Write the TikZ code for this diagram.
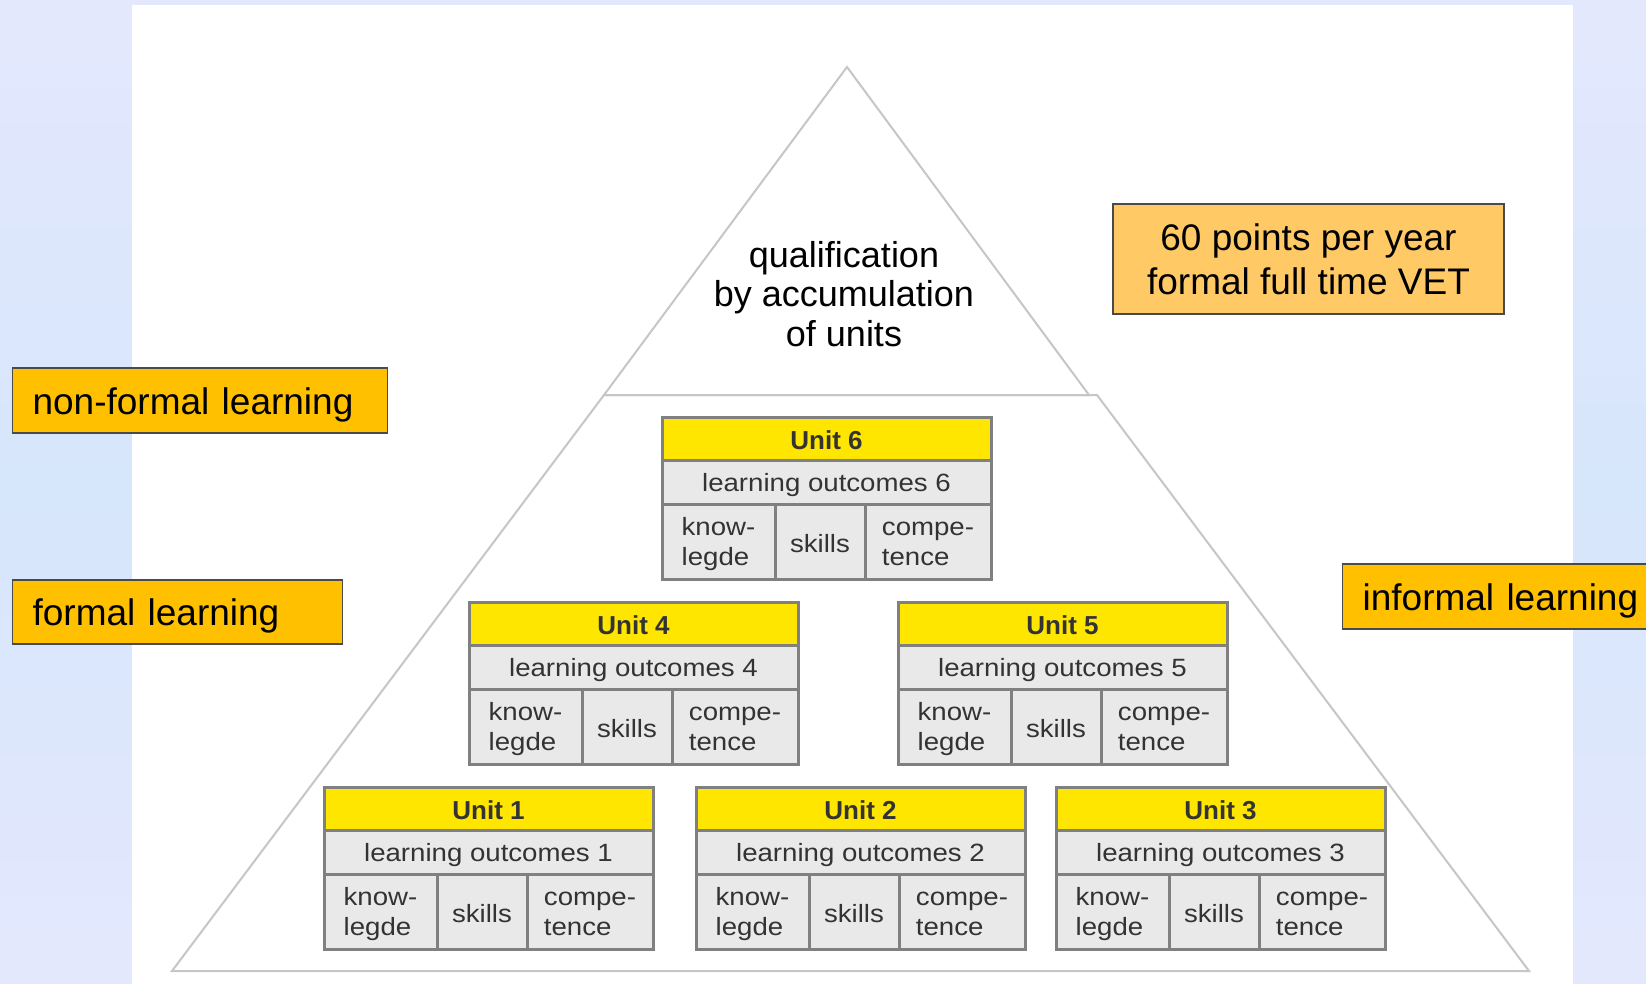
\documentclass[tikz,border=0pt]{standalone}
\usepackage{fontspec}
\setmainfont{Liberation Sans}
\newfontfamily\wideft{Liberation Sans}[FakeStretch=1.105]
\definecolor{bgtop}{HTML}{E4E8FD}
\definecolor{bgmid}{HTML}{D6E6FB}
\definecolor{tri}{HTML}{C6C6C6}
\definecolor{unitY}{HTML}{FFE600}
\definecolor{cellG}{HTML}{E9E9E9}
\definecolor{cellB}{HTML}{808080}
\definecolor{txt}{HTML}{333333}
\definecolor{lab}{HTML}{FFC000}
\definecolor{labl}{HTML}{FFC966}
\definecolor{labb}{HTML}{4A4A4A}
\tikzset{
  cellbase/.style={draw=cellB, line width=3pt, inner sep=0pt, outer sep=0pt, text=txt, anchor=north west},
  hdr/.style={cellbase, fill=unitY, minimum width=329pt, minimum height=43pt, text height=21pt, text depth=0pt, font=\fontsize{26}{30}\selectfont\bfseries},
  lorow/.style={cellbase, fill=cellG, minimum width=329pt, minimum height=44pt, text height=19.5pt, text depth=0pt, font=\wideft\fontsize{25}{29.4}\selectfont},
  kcell/.style={cellbase, fill=cellG, minimum height=75pt},
  skcell/.style={kcell, text height=21pt, text depth=0pt, font=\wideft\fontsize{25}{29.4}\selectfont},
  ktext/.style={inner sep=0pt, align=left, text=txt, font=\wideft\fontsize{25}{29.4}\selectfont},
  labbox/.style={draw=labb, line width=1.2pt, fill=lab, inner ysep=0pt, inner xsep=20pt, align=left, minimum height=65pt, anchor=west, text height=27pt, text depth=0pt, font=\fontsize{37}{42}\selectfont},
  trline/.style={draw=tri, line width=2pt, line join=miter}
}
\newcommand\unitblock[4]{%
  \node[hdr] (#1h) at (#2,#3) {Unit #4};
  \node[lorow] (#1lo) at (#1h.south west) {learning outcomes #4};
  \node[kcell, minimum width=113pt] (#1k) at (#1lo.south west) {};
  \node[skcell, minimum width=90pt] (#1s) at (#1k.north east) {skills};
  \node[kcell, minimum width=126pt] (#1c) at (#1s.north east) {};
  \node[ktext] (#1kt) at ([yshift=-2.5pt]#1k.center) {know-\\legde};
  \node[ktext] (#1ct) at ([yshift=-2.5pt]#1c.center) {compe-\\tence};
}
\begin{document}
\begin{tikzpicture}[x=1pt,y=-1pt]
\useasboundingbox (0,0) rectangle (1646,984);
\fill[top color=bgtop, bottom color=bgtop, middle color=bgmid] (0,0) rectangle (1646,984);
\fill[white] (132,5) rectangle (1573,984);
% pyramid
\coordinate (apex) at (847,67);
\coordinate (tl) at (604,395);
\coordinate (tr) at (1089,395);
\coordinate (zr) at (1097,395);
\coordinate (bl) at (172,971);
\coordinate (br) at (1529,971);
\draw[trline] (apex) -- (tr) -- (tl) -- cycle;
\draw[trline] (tl) -- (zr) -- (br) -- (bl) -- cycle;
\node[align=center, font=\fontsize{36}{39.5}\selectfont, text=black] (qual) at (844,294) {qualification\\by accumulation\\of units};
% units
\unitblock{u6}{662}{417}{6}
\unitblock{u4}{469}{602}{4}
\unitblock{u5}{898}{602}{5}
\unitblock{u1}{324}{787}{1}
\unitblock{u2}{696}{787}{2}
\unitblock{u3}{1056}{787}{3}
% labels
\node[labbox, text width=335pt] (nonformal) at (12,400.5) {non-formal learning};
\node[labbox, text width=290pt, minimum height=64pt] (formal) at (12,612) {formal learning};
\node[labbox, text width=330pt] (informal) at (1342,596.5) {informal learning};
\node[draw=labb, line width=1.2pt, fill=labl, minimum width=391pt, minimum height=110pt, inner sep=0pt, align=center, font=\fontsize{37}{44}\selectfont] (points) at (1308.5,259) {60 points per year\\formal full time VET};
\end{tikzpicture}
\end{document}
